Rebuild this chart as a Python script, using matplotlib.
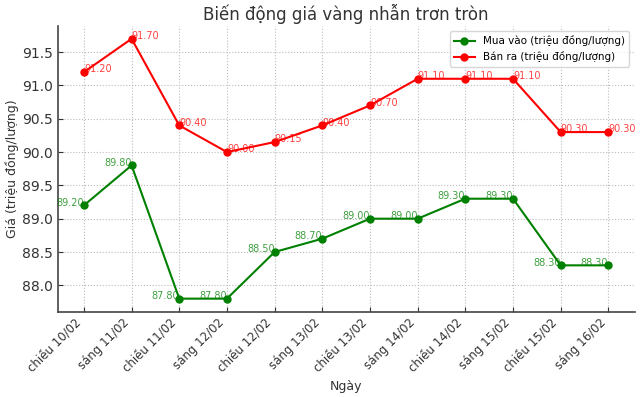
import matplotlib
matplotlib.use("Agg")
import matplotlib.pyplot as plt

categories = ["chiều 10/02", "sáng 11/02", "chiều 11/02", "sáng 12/02", "chiều 12/02",
              "sáng 13/02", "chiều 13/02", "sáng 14/02", "chiều 14/02", "sáng 15/02",
              "chiều 15/02", "sáng 16/02"]
mua_vao = [89.20, 89.80, 87.80, 87.80, 88.50, 88.70, 89.00, 89.00, 89.30, 89.30, 88.30, 88.30]
ban_ra = [91.20, 91.70, 90.40, 90.00, 90.15, 90.40, 90.70, 91.10, 91.10, 91.10, 90.30, 90.30]

plt.rcParams['font.family'] = ['DejaVu Sans']
fig, ax = plt.subplots(figsize=(6.41, 3.97), dpi=100)
x = list(range(len(categories)))
ax.plot(x, mua_vao, color='green', marker='o', markersize=5, linewidth=1.5,
        label='Mua vào (triệu đồng/lượng)')
ax.plot(x, ban_ra, color='red', marker='o', markersize=5, linewidth=1.5,
        label='Bán ra (triệu đồng/lượng)')

for xi, v in zip(x, mua_vao):
    ax.annotate(f"{v:.2f}", (xi, v), xytext=(0, 2), textcoords='offset points',
                ha='right', va='center', fontsize=7, color='green', alpha=0.75)
for xi, v in zip(x, ban_ra):
    ax.annotate(f"{v:.2f}", (xi, v), xytext=(0, 2), textcoords='offset points',
                ha='left', va='center', fontsize=7, color='red', alpha=0.75)

ax.set_xticks(x)
ax.set_xticklabels(categories, rotation=45, ha='right')
ax.set_title("Biến động giá vàng nhẫn trơn tròn", fontsize=12, color='#333333', pad=4)
ax.set_xlabel("Ngày", fontsize=9, color='#333333')
ax.set_ylabel("Giá (triệu đồng/lượng)", fontsize=9, color='#333333', labelpad=2)
ax.grid(True, linestyle=':', color='#bbbbbb', linewidth=0.8)
for s in ['top', 'right']:
    ax.spines[s].set_visible(False)
for s in ['left', 'bottom']:
    ax.spines[s].set_color('#444444')
    ax.spines[s].set_linewidth(1.2)
ax.tick_params(direction='in', colors='#333333')
ax.tick_params(axis='y', labelsize=10)
ax.tick_params(axis='x', labelsize=8.5)
ax.legend(loc='upper right', fontsize=7.5, frameon=True)
fig.subplots_adjust(left=0.09, right=0.99, top=0.935, bottom=0.215)
fig.savefig("out.png", dpi=100)
